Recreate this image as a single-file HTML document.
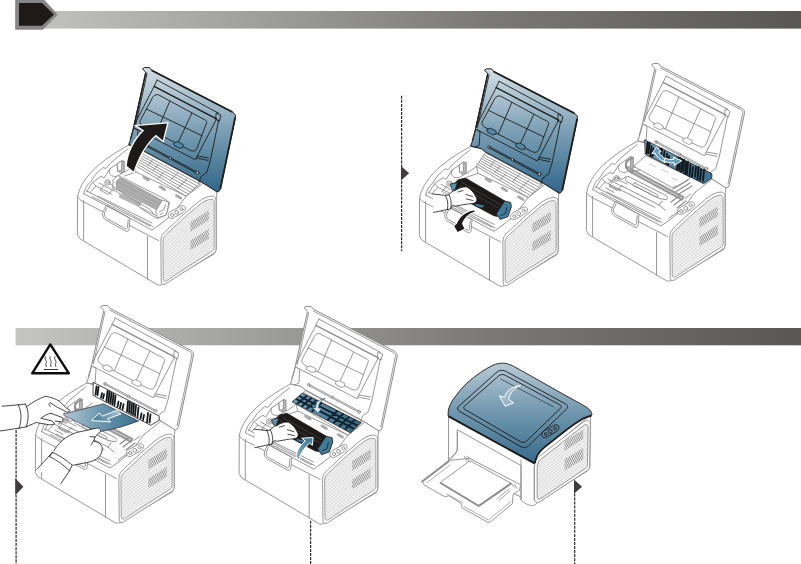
<!DOCTYPE html>
<html><head><meta charset="utf-8"><title>Clearing paper jams</title>
<style>html,body{margin:0;padding:0;background:#fff;}svg{display:block}</style></head>
<body>
<svg width="801" height="564" viewBox="0 0 801 564">

<defs>
<linearGradient id="bar" x1="0" x2="1" y1="0" y2="0">
 <stop offset="0" stop-color="#c5c5c3"/><stop offset="0.25" stop-color="#a6a6a5"/><stop offset="0.6" stop-color="#7a7978"/><stop offset="1" stop-color="#595755"/>
</linearGradient>
<linearGradient id="lidg" gradientUnits="userSpaceOnUse" x1="0" y1="68" x2="0" y2="192">
 <stop offset="0" stop-color="#d2dde4"/><stop offset="0.25" stop-color="#a8bfcd"/><stop offset="0.5" stop-color="#7c9fb5"/><stop offset="0.75" stop-color="#55839e"/><stop offset="1" stop-color="#31658a"/>
</linearGradient>
<linearGradient id="topg" gradientUnits="userSpaceOnUse" x1="0" y1="362" x2="0" y2="465">
 <stop offset="0" stop-color="#b9cbd6"/><stop offset="0.5" stop-color="#6f96ae"/><stop offset="1" stop-color="#35698a"/>
</linearGradient>
<linearGradient id="flapg" x1="0" x2="1" y1="0" y2="0.5">
 <stop offset="0" stop-color="#7fa7bf"/><stop offset="1" stop-color="#3b7393"/>
</linearGradient>
<linearGradient id="paperg" gradientUnits="userSpaceOnUse" x1="62" y1="415" x2="138" y2="422">
 <stop offset="0" stop-color="#b5c9d5"/><stop offset="0.5" stop-color="#6d97b0"/><stop offset="1" stop-color="#38708f"/>
</linearGradient>
<linearGradient id="parrow" gradientUnits="userSpaceOnUse" x1="92" y1="420" x2="121" y2="411">
 <stop offset="0" stop-color="#3f7797"/><stop offset="1" stop-color="#a9c2d0"/>
</linearGradient>
<linearGradient id="flap5" gradientUnits="userSpaceOnUse" x1="295" y1="398" x2="358" y2="428">
 <stop offset="0" stop-color="#6a99b5"/><stop offset="1" stop-color="#336a8b"/>
</linearGradient>
<linearGradient id="barrow5" gradientUnits="userSpaceOnUse" x1="0" y1="437" x2="0" y2="460">
 <stop offset="0" stop-color="#3a7696"/><stop offset="1" stop-color="#8fb3c7"/>
</linearGradient>
<pattern id="hatch" width="4" height="2" patternUnits="userSpaceOnUse" patternTransform="rotate(-31)">
 <rect width="4" height="2" fill="#fff"/><rect width="4" height="0.8" fill="#cacaca"/>
</pattern>
<pattern id="mesh" width="1.7" height="4" patternUnits="userSpaceOnUse" patternTransform="rotate(25)">
 <rect width="1.7" height="4" fill="#f2f2f2"/><rect width="0.85" height="4" fill="#909090"/>
</pattern>

<!-- printer body (open), in printer-1 absolute coordinates -->
<g id="body" fill="#fff" stroke="#8c8c8c" stroke-width="0.9" stroke-linejoin="round" stroke-linecap="round">
 <path d="M77.6,197 C79,186 88,174 98.7,165 C108,157 118,151 128.7,145 L146,148 L217,191.5 C216.5,195 216.2,198 216.2,201 L216.2,249.3 L214.7,253.6 L162.8,284.2 C160,285.5 158.5,285.3 156.5,284.2 L79.9,238.8 L77.6,235 Z"/>
 <!-- front face top edge -->
 <path fill="none" d="M77.6,197 C79,199 81,200.5 84,202 L158.5,240.5"/>
 <path fill="none" d="M83.6,200.3 L83.6,240.2"/>
 <path fill="none" d="M147.5,236.5 L147.5,279"/>
 <!-- tray handle -->
 <path d="M106.3,205.5 L102.8,212.5 C102.2,216 103.5,219 106.3,220.4 L125.9,231.2 C127.8,231.8 129,230.6 129.2,228.8 L130,218.5 Z"/>
 <path fill="none" d="M107,208 L104.6,213 C104.2,215.6 105.2,217.6 107.2,218.8 L125.6,228.8 C126.8,229.2 127.4,228.4 127.5,227.2 L128.2,219.6"/>
 <!-- deck inner contour -->
 <path fill="none" d="M83.7,193.7 C85,188 87.5,184.5 90.6,181.8 L95.6,174.3 L103.1,167.5 L106,168.5 L111.2,162.5 L122.4,153.1 L128.1,148.7"/>
 <!-- deck front edges -->
 <path fill="none" d="M83.7,193.7 L152,230 L160.5,224"/>
 <path fill="none" d="M87,191 L153,226.5"/>
 <!-- right edge of cavity -->
 <path fill="none" d="M160.5,224 L172,215 M186.2,196.2 L202.4,183.7"/>
 <path fill="none" d="M172,215 L186.2,196.2"/>
 <!-- button panel -->
 <g transform="translate(0,3.7)"><path d="M168.6,213.4 C167.4,211 169,209 171,207.8 L180.2,202.6 C182.6,201.4 185,202 185.4,204 C185.8,206 184.6,207.8 182.6,209 L173.6,214.2 C171.6,215.2 169.6,215 168.6,213.4 Z"/>
 <circle cx="172.3" cy="211.3" r="1.6" fill="none"/><circle cx="176.8" cy="208.6" r="1.9" fill="none"/><circle cx="181.6" cy="205.6" r="1.5" fill="none"/></g>
 <!-- cavity left details -->
 <path fill="none" d="M86.5,192 L92.5,182.4 L101.2,176.2 L104,178 L110,168.7 L117,164"/>
 <path fill="none" d="M92.5,182.4 L96,186 L90,192.5 M96,186 L112,194 M99,183 L114,191"/>
 <path fill="none" d="M110,168.7 C108,173 110,177.5 117.4,176.2 L124.3,171.8"/>
 <path fill="#b8b8b8" d="M117.4,163.7 L121.8,160.6 L124.3,161.2 L124.3,171.8 L120.6,173.1 L118.1,171.2 Z"/>
 <path fill="#fff" d="M117.4,163.7 L121.8,160.6 L121.4,170.4 L118.1,171.2 Z"/>
 <circle cx="107.5" cy="182.4" r="2.8"/><circle cx="107.5" cy="182.4" r="1.2"/>
 <path fill="none" d="M110,184 L118,188 M104.5,185 L100,190 L108,194.5 L112.5,190"/>
 <path fill="none" d="M92,196.5 L150,226 M98,196 L152,223"/>
 <path fill="none" d="M125,172 L134.5,165 M124.5,176 L136,172"/>
 <!-- side panel -->
 <path d="M160.9,240 C161.2,237 161.8,235.5 162.8,234.3 C164.5,232 167,229.8 169.5,227.5 L183.1,214.8 L196.8,203.1 C200,200.5 203,198.5 206.5,197.2 C209,196.2 211.5,195.8 213.4,196.3 C215.2,197 215.9,198.4 216,200.2 L216.1,248 C216.1,250.4 215.6,251.8 214.4,252.8 L165.4,284 C163.2,284.9 161.6,284.4 161.3,282.4 Z"/>
 <path fill="url(#hatch)" stroke-width="0.8" d="M163,241 C163.2,238.6 163.7,237.4 164.6,236.2 C166.2,234.2 168.6,232.2 171,230 L184.5,217.4 L198,205.8 C201,203.3 203.8,201.4 207,200.2 C209.2,199.4 211,199 212.3,199.4 C213.6,199.8 214,200.8 214.1,202.4 L214.2,247 C214.2,249 213.7,250 212.7,250.7 L166.4,280.8 C164.7,281.5 163.5,281.2 163.3,279.6 Z"/>
 <path stroke="none" fill="url(#mesh)" d="M190.4,221.9 L208.9,210.2 L208.9,220 L190.4,231.7 Z"/>
 <path stroke="none" fill="url(#mesh)" d="M190.4,240.4 L208.9,228.7 L208.9,238.5 L190.4,250.2 Z"/>
</g>

<g id="ribs" fill="none" stroke="#8c8c8c" stroke-width="0.9" stroke-linecap="round">
 <path fill="#fff" d="M143.7,151.5 L201.2,182.4 L186.2,196.2 L136,172 L134.5,165 Z"/>
 <path d="M142.6,154.0 L199.4,184.1"/>
 <path d="M141.2,155.8 L197.2,186.1"/>
 <path d="M139.9,157.7 L195.0,188.1"/>
 <path d="M138.5,159.5 L192.8,190.1"/>
 <path d="M137.2,161.3 L190.6,192.2"/>
 <path d="M135.8,163.2 L188.4,194.2"/>
 <path d="M134.5,165.0 L186.2,196.2"/>
 <path d="M153.0,159.2 L147.9,165.5"/>
 <path d="M158.2,164.7 L152.7,171.1"/>
 <path d="M178.1,172.4 L170.4,180.4"/>
 <path d="M186.9,179.1 L177.2,188.6"/>
 <path d="M163.7,172.5 L158.4,178.4"/>
 <path stroke="none" fill="#a9a9a9" d="M142.7,176.1 L145.2,176.29999999999998 L149.7,179.29999999999998 L149.7,181.5 L147.2,181.1 L142.7,178.1 Z"/>
 <path stroke="none" fill="#a9a9a9" d="M158.9,185.5 L161.4,185.7 L165.9,188.7 L165.9,190.9 L163.4,190.5 L158.9,187.5 Z"/>
 <path stroke="none" fill="#a9a9a9" d="M175.2,194.20000000000002 L177.7,194.4 L182.2,197.4 L182.2,199.60000000000002 L179.7,199.20000000000002 L175.2,196.20000000000002 Z"/>
</g>
<g id="cartgray" stroke="#8c8c8c" stroke-width="0.9" stroke-linejoin="round">
 <path fill="#fff" d="M113,180 L118,175.5 L164,198.5 L169.5,202.5 L166.2,215 L157.4,218.5 L150,214.5 L113,189 Z"/>
 <path fill="#a6a6a6" stroke="none" d="M120,177 L162.4,200 L156.2,209.9 L116.2,189.2 L115.6,181.8 Z"/>
 <path fill="none" stroke="#c9c9c9" stroke-width="0.5" d="M119,180 L160.5,202.5 M117.5,184 L158.6,205.8 M117,187.4 L157.4,208.4"/>
 <path fill="#fff" d="M162.4,200 L168.7,202.4 L168,207.4 L166.2,214.9 L157.4,218 L155.6,211.2 Z"/>
 <path fill="none" d="M159,212 L164,209.5 L165.5,204.5 M160,214.5 L163,213"/>
 <path fill="#b4b4b4" stroke="none" d="M119.3,194.4 L122,193.2 L141.5,202.6 L140.8,206 L138,206.6 L119,197.4 Z"/>
 <path fill="none" d="M112,186.5 L150,209.5 L156,216.5 M141,207.5 L154,214.5"/>
</g>
<g id="cav" fill="none" stroke="#8c8c8c" stroke-width="0.95" stroke-linecap="round" stroke-linejoin="round">
 <path d="M121.4,174.4 L174.4,202.8" stroke="#9a9a9a" stroke-width="5" stroke-linecap="butt"/>
 <path d="M121.4,174.4 L174.4,202.8" stroke="#d4d4d4" stroke-width="1"/>
 <path d="M123.5,162 C118,163.5 115.5,168 117.5,172.5 C119,175 122,176 124.5,175" stroke="#8c8c8c" stroke-width="1.8"/>
 <path d="M119.5,180.5 L157,199.5 C159.5,201 159,204 156,203.6 L150,202.4 L117.5,185.5 C115.5,183.5 117,180 119.5,180.5 Z" fill="#fff"/>
 <path d="M126,187 L148,198.5 C150,199.8 149,201.6 147,201 L124.5,189.5 C123,188.2 124.4,186.4 126,187 Z"/>
 <path d="M112,189.5 L150,209 L156,214 M109,192.5 L146,211.5 M150,209 L153,205"/>
 <path d="M100,186.5 L108,181 L113,183.5 L117,180.5 M101,189.5 L111,195 M97,192 L105,196.5"/>
 <path d="M162,206 L170,200 M165,209 L174,202 M168,212 L177,205" stroke-width="1.2"/>
 <path d="M176,202.5 L182,198 M171,214.5 L160,222"/>
</g>
<!-- lid outline shape -->
<path id="lidshape" d="M142.5,68.8 L144.5,67.5 L149.6,67.6 L151.7,70.2 L232.2,111.9 C235,113.6 236,115.4 235.3,118 L220.4,188.7 C220,190.6 218.6,192 216.8,191.8 L201.2,181.8 L143.6,150.8 L139.3,147.4 L128.6,144.8 C131,139 132.6,133 133.7,126.7 L145.8,72.4 Z"/>
<!-- lid inner details; stroke colour inherited -->
<g id="liddet" fill="none" stroke-width="0.9" stroke-linejoin="round" stroke-linecap="round">
 <path d="M147,73.6 L135.4,126"/>
 <path d="M157.1,80 L218.7,113.3"/>
 <path d="M154.2,86.3 L216.6,118.9" stroke-width="1.4"/>
 <path d="M157.1,80 L154.2,86.3 L134.4,124.6"/>
 <path d="M216.6,113.0 L220.9,115.2 L219.5,121.1 L215.9,119.5 Z"/>
 <path d="M151.4,99.8 Q153.6,93.6 158.5,94.8 L201.7,118.2 Q207.6,120.6 206.7,122.5 L197.5,147 Q195.6,152.6 190.4,150.5 L145,127.1 Q139.2,124.6 140,121.1 Z"/>
 <path d="M169.8,101.2 L156.3,132.8 M191.8,113.3 L177.5,143.9 M146.4,109 L201.7,135.6"/>
 <path d="M133.7,127.8 L195.3,159.7 L216.6,118.9"/>
 <path d="M218.7,120 L210.2,161.1 L206.7,172.5 L201,176.7 L198.9,182.4"/>
 <path d="M196.5,158 L208,160.4 M197.5,156 L208.6,158"/>
 <path d="M147.1,145.2 L197.5,172.2 M146.7,146.4 L197.1,173.4"/>
 <circle cx="147" cy="145.8" r="1.3" fill="#cfd8de"/><circle cx="170.5" cy="158.3" r="1.3" fill="#cfd8de"/><circle cx="197.4" cy="172.8" r="1.5" fill="#cfd8de"/>
 <path d="M135,128.5 L138,130.5 L137.2,144 L132.8,146 M130.2,139 L133.5,128"/>
</g>
<g id="clips">
 <path d="M144.8,128.2 L148.5,126.8 L154.2,129.8 L153.8,132.8 L150.5,133.6 L145,130.6 Z"/>
 <path d="M173.8,143 L177.5,141.6 L183.2,144.6 L182.8,147.6 L179.5,148.4 L174,145.4 Z"/>
</g>
</defs>

<rect x="15.6" y="11" width="786" height="17.6" fill="url(#bar)"/>
<path d="M15.2,-1 L43.5,-1 L57.7,14.4 L43,29.8 L15.2,29.8 Z" fill="#868686"/>
<path d="M19,3 L42,3 L54,14.4 L42,25.8 L19,25.8 Z" fill="#1f1a18"/>
<rect x="15.6" y="328" width="786" height="17.3" fill="url(#bar)"/>
<g transform="translate(0,0)">
<use href="#body"/>
<use href="#ribs"/><use href="#cartgray"/><use href="#lidshape" fill="url(#lidg)" stroke="#1d1d1b" stroke-width="1"/>
<path d="M151.5,70.2 L232.4,112 M235.2,117.4 L220.3,189" stroke="#1d1d1b" stroke-width="1.8" fill="none"/>
<path d="M145.8,72.4 L133.9,126.6" stroke="#1d1d1b" stroke-width="1.4" fill="none"/>
<use href="#liddet" stroke="#1d1d1b"/>
<use href="#clips" fill="#4f88a6" stroke="#1d1d1b" stroke-width="0.8"/>
</g>
<g transform="translate(342,1.3)">
<use href="#body"/>
<use href="#ribs"/><use href="#lidshape" fill="url(#lidg)" stroke="#1d1d1b" stroke-width="1"/>
<path d="M151.5,70.2 L232.4,112 M235.2,117.4 L220.3,189" stroke="#1d1d1b" stroke-width="1.8" fill="none"/>
<path d="M145.8,72.4 L133.9,126.6" stroke="#1d1d1b" stroke-width="1.4" fill="none"/>
<use href="#liddet" stroke="#1d1d1b"/>
<use href="#clips" fill="#4f88a6" stroke="#1d1d1b" stroke-width="0.8"/>
</g>
<g transform="translate(509,-4)">
<use href="#body"/>
<use href="#cav"/><use href="#lidshape" fill="#fff" stroke="#8c8c8c" stroke-width="1"/>
<path d="M151.3,71.9 L231.4,113.4 C233.4,114.6 234.1,115.8 233.7,117.6 L219,188" stroke="#8c8c8c" stroke-width="0.9" fill="none"/>
<use href="#liddet" stroke="#8c8c8c"/>
<use href="#clips" fill="#fff" stroke="#8c8c8c" stroke-width="0.8"/>
</g>
<g transform="translate(-42,238)">
<use href="#body"/>
<use href="#cav"/><use href="#lidshape" fill="#fff" stroke="#8c8c8c" stroke-width="1"/>
<path d="M151.3,71.9 L231.4,113.4 C233.4,114.6 234.1,115.8 233.7,117.6 L219,188" stroke="#8c8c8c" stroke-width="0.9" fill="none"/>
<use href="#liddet" stroke="#8c8c8c"/>
<use href="#clips" fill="#fff" stroke="#8c8c8c" stroke-width="0.8"/>
</g>
<g transform="translate(161.7,239)">
<use href="#body"/>
<use href="#ribs"/><use href="#lidshape" fill="#fff" stroke="#8c8c8c" stroke-width="1"/>
<path d="M151.3,71.9 L231.4,113.4 C233.4,114.6 234.1,115.8 233.7,117.6 L219,188" stroke="#8c8c8c" stroke-width="0.9" fill="none"/>
<use href="#liddet" stroke="#8c8c8c"/>
<use href="#clips" fill="#fff" stroke="#8c8c8c" stroke-width="0.8"/>
</g>
<path d="M126.8,165.9 C128,153 134,140 144.2,130.5 L137.3,126.1 L167.1,123.4 L162.8,140.4 L156,134.8 C146,143 138.5,157 133.6,171.4 Z" fill="#fff" stroke="#fff" stroke-width="2.6" stroke-linejoin="miter"/>
<path d="M126.8,165.9 C128,153 134,140 144.2,130.5 L137.3,126.1 L167.1,123.4 L162.8,140.4 L156,134.8 C146,143 138.5,157 133.6,171.4 Z" fill="#1d1a19"/>
<g stroke="#1d1a19" stroke-width="0.8" stroke-linejoin="round" stroke-linecap="round">
 <path fill="#1d1a19" d="M458.3,179.8 L465.4,178.1 L505,201.1 L496.5,213.9 L497.3,216.4 L494,215.8 L470,203 L456.9,191.2 L452,186 Z"/>
 <path fill="none" stroke="#5a5a5a" stroke-width="0.5" d="M462,182.5 L500.5,204.5 M459.5,186 L498,207.8"/>
 <path fill="#3f7c9c" d="M505,201.1 L510.7,202.5 L511.4,206.8 L507.9,216.7 L500.1,219.5 L496.5,213.9 Z"/>
 <path fill="none" d="M501,215.5 L505.5,213.5 L507,207"/>
 <path fill="#5a93b0" d="M450.5,184.1 L457.6,182.7 L454.8,190.5 L452.6,189.8 Z"/>
 <path fill="#3f7c9c" d="M474.5,203.2 L484.8,205.2 L482.6,208.2 L476,206.4 Z"/>
 <path fill="#fff" d="M432.8,194 L445.5,195.4 L449,194.7 C451,192 453,190.8 455.4,190.5 C459,188 463,186.6 466.8,186.9 C469.5,188.5 472,190.5 473.9,193.3 L476.7,198.3 C477,200 476.6,201.6 475.3,202.5 C473,203.6 470.6,204 468.2,203.9 L455.4,206.1 L452.6,205.4 L450.5,208.9 L433.5,212.4" />
 <path fill="none" d="M445.5,195.4 C447.5,199.5 448.5,204 447.4,209.5 M449,194.7 C451,199 452,203.5 450.5,208.9"/>
 <path fill="none" d="M466,194.5 L472.5,196.5 M466.5,199 L473,200.5 M458,192 L463,190.5"/>
</g>
<path d="M474.6,210.6 C469,211 463.5,214.3 460.2,218.1 C458.4,220.4 457.4,222.4 456.9,223.8 L454.2,225.9 L457.6,231.9 L464.4,228.8 L462,223.8 C462.6,221.6 463.9,219.6 465.5,217.5 C467.6,214.9 470.5,212.7 474.6,211.4 Z" fill="#fff" stroke="#fff" stroke-width="2" stroke-linejoin="round"/>
<path d="M474.6,210.6 C469,211 463.5,214.3 460.2,218.1 C458.4,220.4 457.4,222.4 456.9,223.8 L454.2,225.9 L457.6,231.9 L464.4,228.8 L462,223.8 C462.6,221.6 463.9,219.6 465.5,217.5 C467.6,214.9 470.5,212.7 474.6,211.4 Z" fill="#1d1a19"/>
<g stroke-linejoin="round" stroke-linecap="round"><path d="M634,166 L646,155.5 L690.5,177.5 C686,181.5 680,185.5 672.5,187.5 Z" fill="#fff" stroke="#8c8c8c" stroke-width="0.9"/><path d="M650,164 L656,167 M662,169.5 L668,172.5 M672,178 L678,180.5" stroke="#b9b9b9" stroke-width="0.8" fill="none"/><path d="M673,189 L688,180 M676,191.5 L690,183 M679,194 L692,186" stroke="#8c8c8c" stroke-width="1.2" fill="none"/><path d="M645,140 L711.8,173.7 L711.8,178.1 L703.7,183.7 L645.6,154.3 Z" fill="url(#flapg)" stroke="#1d1a19" stroke-width="0.8"/><path d="M647.5,142.6 L646.5,153.4 M649.5,142.9 L648.5,153.1 M651.5,146.0 L650.5,156.1 M653.5,148.3 L652.5,156.4 M660.0,148.9 L659.0,155.7 M662.0,148.6 L661.0,158.0 M664.5,151.2 L663.5,160.0 M667.0,153.8 L666.0,163.3 M669.0,156.2 L668.0,165.0 M678.0,158.0 L677.0,169.5 M680.0,157.7 L679.0,169.8 M682.0,159.3 L681.0,171.5 M684.0,159.7 L683.0,171.2 M686.0,162.0 L685.0,173.6 M688.0,161.7 L687.0,173.9 M690.5,164.3 L689.5,175.8 M693.0,166.9 L692.0,176.4 M696.0,167.1 L695.0,176.6 M698.5,167.0 L697.5,179.2 M701.0,169.6 L700.0,179.8 M704.0,169.8 L703.0,180.6 " stroke="#14171a" stroke-width="1.9" fill="none" stroke-linecap="round"/><path d="M656.8,147.3 L661.2,151.6 L658.8,152 C660.4,155.4 663.4,158 667.2,159.6 L665.6,162.6 C660.4,160.4 656.6,156.8 655.2,153 L652.2,153.6 Z" fill="#6a9dbb" stroke="#fff" stroke-width="1"/><path d="M681.4,160.6 L673.4,157.2 L673.8,159.4 C670.6,159.8 667.6,159.4 665,158 L663.8,161 C667,162.6 670.8,163.2 674.2,162.6 L674.4,165 Z" fill="#6a9dbb" stroke="#fff" stroke-width="1"/></g>
<path d="M50.3,344.4 L68.9,373.3 L32.2,373.3 Z" fill="#fff" stroke="#0d0d0d" stroke-width="2.4" stroke-linejoin="round"/>
<path d="M45.3,356.5 C43.699999999999996,359 47.5,361 46.1,363.2 C45.1,364.6 46.5,365.6 46.3,366.6 M50.1,356.5 C48.5,359 52.300000000000004,361 50.900000000000006,363.2 C49.900000000000006,364.6 51.300000000000004,365.6 51.1,366.6 M54.9,356.5 C53.3,359 57.1,361 55.7,363.2 C54.7,364.6 56.1,365.6 55.9,366.6 " fill="none" stroke="#2a2422" stroke-width="0.8" stroke-linecap="round"/>
<path d="M43.9,369.5 H57.9" stroke="#1d1a19" stroke-width="0.9"/>
<g stroke-linejoin="round" stroke-linecap="round"><path d="M93.6,382.5 L159.2,416.1 L159.2,420.3 L150.7,425.3 L93.3,395.5 Z" fill="#fff" stroke="#1d1a19" stroke-width="0.8"/><path d="M96.5,386.5 L95.5,394.7 M98.5,386.9 L97.5,395.1 M102.0,393.1 L101.0,397.6 M104.0,394.2 L103.0,398.6 M107.5,390.9 L106.5,401.1 M109.5,391.3 L108.5,402.1 M111.5,392.9 L110.5,403.2 M113.5,394.0 L112.5,404.2 M115.5,395.6 L114.5,405.2 M118.5,401.7 L117.5,406.8 M121.0,402.9 L120.0,408.1 M123.5,404.2 L122.5,409.4 M128.0,401.4 L127.0,411.7 M130.0,401.8 L129.0,412.7 M132.0,403.5 L131.0,413.8 M134.0,403.8 L133.0,414.8 M136.0,405.5 L135.0,415.9 M138.5,407.4 L137.5,417.2 M141.5,413.5 L140.5,418.7 M144.0,414.8 L143.0,420.0 M148.0,413.0 L147.0,422.1 M150.5,414.3 L149.5,422.7 " stroke="#14171a" stroke-width="1.8" fill="none" stroke-linecap="round"/><path d="M62.3,414.3 L103.5,403.8 L138.7,421 Q121,428 102.5,431.2 L94.5,430.5 Z" fill="url(#paperg)" stroke="#1d1a19" stroke-width="0.6"/><path d="M91.9,420.3 L99,413.2 L102.5,416.1 L116.7,410.4 L121,413.9 L107.5,418.9 L110.3,421.7 Z" fill="url(#parrow)" stroke="#fff" stroke-width="1"/><path d="M2.1,406.2 L18.4,404.8 L25.5,404.1 L26.2,406.9 C33,402 39,398.5 45.4,396.3 C51,397 56,399 59.5,401.3 L66.6,408.3 L70.2,410.5 C69.6,411.8 68.2,412.2 66.6,411.9 L62,411.5 C64,413.5 64,415.5 62.4,417.6 C63.5,419.5 63,421 61.7,421.8 L55.3,421.1 L54.6,423.9 C52.5,424.8 50.2,424.9 48.2,424.6 L36.1,422.5 L26.2,426.8 L19.1,428.2 L0,431 L0,406.4 Z" fill="#fff" stroke="none"/><path d="M2.1,406.2 L18.4,404.8 M0,431 L19.1,428.2 M18.4,404.8 C21.5,412 22,420 19.1,428.2 M25.5,404.1 C28.8,411 29,419 26.2,426.8 M18.4,404.8 L25.5,404.1 M19.1,428.2 L26.2,426.8 M26.2,406.9 C33,402 39,398.5 45.4,396.3 C51,397 56,399 59.5,401.3 L66.6,408.3 L70.2,410.5 C69.6,411.8 68.2,412.2 66.6,411.9 L56.7,406.9 L50,402.5 C48.5,404 49,405.5 50.5,406.5 M51,413.3 L62.4,417.6 C63.5,419.5 63,421 61.7,421.8 L55.3,421.1 M41.1,418.3 L52.4,421.1 L54.6,423.9 C52.5,424.8 50.2,424.9 48.2,424.6 L36.1,422.5 L26.2,426.8 M51,413.3 C47,414 43.5,416 41.1,418.3" fill="none" stroke="#1d1a19" stroke-width="0.8"/><path d="M36.9,469.4 L52.5,452.3 L53.9,450.9 C58,443 66,436 76.6,432.5 L96.5,428.2 C99,427.6 100.8,429 100.7,431 L95,437 L93.6,441 C98,442 101,444 102.1,446.7 C102.5,451 101.5,454 99.3,456.6 C96,460 92,461.6 87.9,462.3 L73.8,465.1 L72.3,465.1 L69.5,470.8 L61,483.5 Z" fill="#fff" stroke="none"/><path d="M36.9,469.4 L52.5,452.3 M61,483.5 L69.5,470.8 M49.6,456.6 C56,459.5 63,464.5 69.5,470.8 M52.5,452.3 C59,455 66,460 72.3,465.1 M49.6,456.6 L52.5,452.3 M69.5,470.8 L72.3,465.1 M53.9,450.9 C58,443 66,436 76.6,432.5 L96.5,428.2 C99,427.6 100.8,429 100.7,431 L95,437 L93.6,441 C98,442 101,444 102.1,446.7 C102.5,451 101.5,454 99.3,456.6 C96,460 92,461.6 87.9,462.3 L73.8,465.1 M95,437 L90,436.5 M93.6,441 L91,445" fill="none" stroke="#1d1a19" stroke-width="0.8"/></g>
<g stroke-linejoin="round" stroke-linecap="round"><path d="M292.4,401.6 L302.3,393.2 L361,422.5 L351,432.4 Z" fill="url(#flap5)" stroke="#1d1a19" stroke-width="0.8"/><path d="M300.2,396.6 L356.5,425.2 M296.9,399.3 L353.2,428.4 M306.5,396.0 L297.6,403.6 M311.2,398.3 L302.3,406.1 M315.9,400.7 L307.0,408.6 M321.2,403.3 L312.2,411.3 M337.0,411.2 L328.1,419.6 M342.9,414.2 L333.9,422.7 M348.8,417.1 L339.8,425.8 M354.6,420.1 L345.6,428.8 " stroke="#14222c" stroke-width="2" fill="none"/><path d="M324.8,398.6 C320.5,400.5 318.6,404 318.6,408 L321.8,408.2 L318,413 L312.2,407.6 L315.6,407.8 C315.6,402.5 318.6,399.2 324.8,398.6 Z" fill="#dfe9ef" stroke="#2b5d7a" stroke-width="0.7"/></g>
<g transform="translate(-178.6,235.2)"><g stroke="#1d1a19" stroke-width="0.8" stroke-linejoin="round" stroke-linecap="round">
 <path fill="#1d1a19" d="M458.3,179.8 L465.4,178.1 L505,201.1 L496.5,213.9 L497.3,216.4 L494,215.8 L470,203 L456.9,191.2 L452,186 Z"/>
 <path fill="none" stroke="#5a5a5a" stroke-width="0.5" d="M462,182.5 L500.5,204.5 M459.5,186 L498,207.8"/>
 <path fill="#3f7c9c" d="M505,201.1 L510.7,202.5 L511.4,206.8 L507.9,216.7 L500.1,219.5 L496.5,213.9 Z"/>
 <path fill="none" d="M501,215.5 L505.5,213.5 L507,207"/>
 <path fill="#5a93b0" d="M450.5,184.1 L457.6,182.7 L454.8,190.5 L452.6,189.8 Z"/>
 <path fill="#3f7c9c" d="M474.5,203.2 L484.8,205.2 L482.6,208.2 L476,206.4 Z"/>
 <path fill="#fff" d="M432.8,194 L445.5,195.4 L449,194.7 C451,192 453,190.8 455.4,190.5 C459,188 463,186.6 466.8,186.9 C469.5,188.5 472,190.5 473.9,193.3 L476.7,198.3 C477,200 476.6,201.6 475.3,202.5 C473,203.6 470.6,204 468.2,203.9 L455.4,206.1 L452.6,205.4 L450.5,208.9 L433.5,212.4" />
 <path fill="none" d="M445.5,195.4 C447.5,199.5 448.5,204 447.4,209.5 M449,194.7 C451,199 452,203.5 450.5,208.9"/>
 <path fill="none" d="M466,194.5 L472.5,196.5 M466.5,199 L473,200.5 M458,192 L463,190.5"/>
</g>
</g>
<path d="M296.1,457 C296.5,452 299,446 305.3,441 L301.7,438.2 L313.1,437.5 L312.4,445.3 L309.5,443.2 C304.5,447.5 300.6,453 298.9,459.8 Z" fill="url(#barrow5)" stroke="#fff" stroke-width="1" stroke-linejoin="round"/>
<g stroke="#8c8c8c" stroke-width="0.9" fill="#fff" stroke-linejoin="round" stroke-linecap="round"><path d="M448.5,412 L448.5,460.7 L521,497 L521,500 C524,503 528,505.5 532.6,505.6 C534.5,505.6 536,504 537.5,502.5 L588,470.5 C589.4,469.4 589.8,468 589.8,466 L590.5,415 L535,462 Z"/><path d="M457.3,430 L457.3,450 C456.5,453 453,457 449,460.5 L521,497 L521,466 Z" fill="#fff"/><path d="M466.1,456 L510.7,482.3" fill="none" stroke-width="0.7"/><path d="M521,460 L521,499.5 M534.2,466 L534.2,500" fill="none"/><path d="M534.5,466.5 C534.8,462 536,459.5 538.5,457 L584,421.5 C587.5,419.5 590.3,421 590.3,424.5 L589.6,466 C589.6,468 588.8,469.4 587.5,470.3 L539.5,502 C536.6,503.4 534.8,502.6 534.5,499.6 Z"/><path d="M537.2,467.4 C537.4,463.6 538.4,461.6 540.4,459.6 L584.4,425 C586.8,423.8 588.2,424.8 588.2,427.2 L587.4,465 C587.4,466.6 586.8,467.6 585.8,468.3 L540.8,498.6 C538.6,499.6 537.4,499 537.2,496.8 Z" fill="url(#hatch)"/><path stroke="none" fill="url(#mesh)" d="M564.5,441.8 L583.3,429.6 L583.3,438.8 L564.5,451 Z"/><path stroke="none" fill="url(#mesh)" d="M564.5,459.2 L583.3,448 L583.3,459.2 L564.5,470.4 Z"/><path d="M448.5,460.7 L422.2,481.5 L423.8,484.7 L444.5,496.6 L449.3,495.8 L461.3,503.8 L462.1,507.8 L487.6,522.2 L490,522.2 L512.3,503.8 L513.1,494.3 L519.5,490.3 L520.3,486.3 L521,485 L470,458.5 Z"/><path d="M422.2,481.5 L448.5,461.5" fill="none" stroke-width="1.8"/><path d="M427,482.5 L450,465 M447,494 L463,503 M464,506.5 L488.5,520 L510.5,502" fill="none" stroke-width="0.7"/><path d="M440.5,482.3 L470,460.7 L510.7,483.1 L478.8,505.4 Z"/><path d="M440.5,483 L478.8,506 L510.7,483.8" fill="none" stroke="#8c8c8c" stroke-width="1.8"/><path d="M497,499 L509,489 M499,500.5 L510,491" fill="none" stroke="#8c8c8c" stroke-width="0.8"/><path d="M464.5,456.5 L466.5,461 M467.5,458 L469,462 M511,483 L514,487 M514.5,484.5 L517,488.5" fill="none"/><path d="M457.3,432 L457.3,449 C456.6,452.5 453.5,455.5 449.5,458.5" fill="none"/></g><path d="M448.2,416.1 C448,413.5 448.1,411.2 448.6,409 C450,404.5 451.8,401 454.3,397.8 C458,392.6 462,388 466.5,383.5 C471,379.4 475.6,375.6 480.8,372.3 C484.8,369.6 488.8,367.2 493,365.2 C496.4,363.8 499.8,363.1 503.2,363.2 C506.8,363.4 510,364.5 513.4,366.2 L531.7,376.4 L562.3,393.7 L582.7,404.9 C585.5,406.4 587.9,408 589.8,410 C591.2,411.6 591.9,413.2 591.9,415.1 C588.8,415.9 585.8,416.9 582.7,418.2 C575.5,422.4 568.8,427.2 562.3,432.5 L546,445.7 C542.6,448.6 540,451.4 537.8,454.9 C536.2,457.6 535.2,460.2 534.8,463.6 Z" fill="url(#topg)" stroke="#1d1a19" stroke-width="0.9" stroke-linejoin="round"/><path d="M448.6,416.4 L534.6,463.4" stroke="#1d1a19" stroke-width="1.8" fill="none"/><path d="M535,463 C535.6,457.5 538.2,452.8 543.2,448.4 L562.8,432.9 C569.2,427.7 575.8,422.9 583,418.8 C586,417.4 588.8,416.4 591.6,415.8" stroke="#1d1a19" stroke-width="1.5" fill="none"/><path d="M458.4,406.6 C457,408.4 457.4,410 459.4,411.2 L520,446.2 C523.4,448.2 526.2,448 528.8,445.6 L566,409.4 C568.2,407.2 568,405.4 565.6,404 L506.4,371.6 C503,369.8 500,369.8 497.2,371.8 Z" fill="none" stroke="#1d1a19" stroke-width="0.9"/><path d="M464.2,406.4 C463.2,407.6 463.5,408.6 465,409.5 L520.4,441.6 C522.8,442.9 524.8,442.7 526.6,441 L560.2,408.6 C561.8,407 561.6,405.8 559.8,404.8 L505.6,375.4 C503.2,374.2 501,374.2 499,375.6 Z" fill="none" stroke="#1d1a19" stroke-width="0.9"/><path d="M500.1,378.6 L554.1,407.2" fill="none" stroke="#1d1a19" stroke-width="0.6"/><g transform="translate(373.4,222.8)" fill="none" stroke="#1d1a19" stroke-width="0.9"><path d="M168.6,213.4 C167.4,211 169,209 171,207.8 L180.2,202.6 C182.6,201.4 185,202 185.4,204 C185.8,206 184.6,207.8 182.6,209 L173.6,214.2 C171.6,215.2 169.6,215 168.6,213.4 Z"/><circle cx="172.3" cy="211.3" r="1.4"/><circle cx="176.8" cy="208.6" r="1.9"/><circle cx="181.6" cy="205.6" r="1.4"/></g><path d="M520.6,385.4 C512,386.4 506.2,391 504.6,397.4 L499.1,395.8 L505.2,406.2 L513.6,402.8 L508.6,399.4 C509.6,393.4 513.6,388.4 520.6,385.4 Z" fill="#c3d3dd" fill-opacity="0.4" stroke="#fff" stroke-width="1" stroke-linejoin="round"/>
<path d="M401.6,95.8 V251" stroke="#333130" stroke-width="1.25" stroke-dasharray="3,1.04" fill="none"/>
<path d="M16.1,430 V564" stroke="#333130" stroke-width="1.25" stroke-dasharray="3,1.04" fill="none"/>
<path d="M310.6,520.7 V564" stroke="#333130" stroke-width="1.25" stroke-dasharray="3,1.04" fill="none"/>
<path d="M574.7,493.5 V564" stroke="#333130" stroke-width="1.25" stroke-dasharray="3,1.04" fill="none"/>
<path d="M401,166 L409.1,173.3 L401,180.5 Z" fill="#403d3c"/>
<path d="M15.3,478.2 L23.4,486.7 L15.3,495.2 Z" fill="#403d3c"/>
<path d="M574,479.4 L582.1,486.7 L574,493.8 Z" fill="#403d3c"/>

</svg>
</body></html>
